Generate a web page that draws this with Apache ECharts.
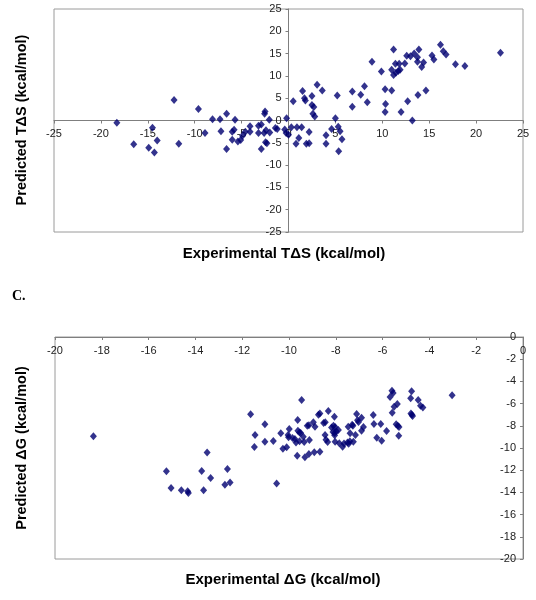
<!DOCTYPE html>
<html>
<head>
<meta charset="utf-8">
<script src="https://cdn.jsdelivr.net/npm/echarts@6/dist/echarts.min.js"></script>
<style>
html,body{margin:0;padding:0;background:#fff;}
#c{width:536px;height:600px;}
</style>
</head>
<body>
<div id="c"></div>
<script>
// Panel B: Experimental vs Predicted TΔS (kcal/mol)
const expTdS = [-18.3,-12.2,-16.5,-14.9,-14.3,-14.5,-14.0,-11.7,-9.6,-8.9,-8.1,-7.3,-7.2,-6.6,-6.6,-5.7,-6.0,-5.8,-6.0,-5.4,-5.1,-4.9,-4.6,-4.1,-4.1,-3.2,-2.9,-3.2,-2.9,-2.6,-2.55,-2.5,-2.4,-2.45,-2.3,-2.05,-2.0,-1.4,-1.2,-0.4,-0.2,-0.25,0.0,0.5,0.3,0.9,0.8,1.1,1.4,1.5,1.7,1.8,2.2,1.9,2.2,2.5,2.5,2.7,2.6,2.8,3.05,3.6,4.0,4.0,4.6,5.0,5.2,5.3,5.5,5.7,5.35,6.8,6.8,7.7,8.1,8.4,8.9,9.9,10.3,10.35,10.3,11.0,11.0,11.2,11.2,11.4,11.45,11.7,11.8,11.9,12.0,12.4,12.6,13.0,12.7,13.2,13.4,13.75,13.75,13.9,13.8,14.2,14.4,14.65,15.3,15.5,16.2,16.5,16.8,17.8,18.8,22.6];
const predTdS = [-0.5,4.6,-5.3,-6.1,-7.2,-1.6,-4.5,-5.2,2.6,-2.8,0.3,0.3,-2.4,1.5,-6.4,0.15,-2.5,-2.1,-4.3,-4.7,-4.4,-3.4,-2.5,-2.5,-1.3,-1.2,-0.9,-2.8,-6.4,-2.8,1.5,2.0,-2.2,-4.9,-5.1,0.15,-2.7,-1.7,-1.9,-2.0,0.5,-2.8,-3.2,4.3,-1.5,-1.5,-5.2,-3.9,-1.5,6.6,5.0,4.5,-2.6,-5.2,-5.1,5.5,3.5,3.0,1.5,0.9,8.0,6.7,-3.3,-5.2,-1.9,0.5,5.6,-1.4,-2.4,-4.2,-6.9,6.5,3.1,5.8,7.7,4.1,13.2,11.0,7.0,3.7,1.9,6.7,11.4,15.9,10.2,12.7,10.7,11.1,12.7,11.4,1.9,12.8,14.5,14.4,4.3,0.0,15.0,14.2,13.2,15.9,5.7,12.0,13.0,6.7,14.6,13.7,17.0,15.5,14.8,12.6,12.2,15.2];

// Panel C: Experimental vs Predicted ΔG (kcal/mol)
const expDG = [-18.36,-15.24,-15.04,-14.6,-14.33,-14.3,-13.65,-13.73,-13.5,-13.35,-12.74,-12.52,-12.63,-11.64,-11.03,-11.45,-11.48,-11.03,-10.67,-10.35,-10.53,-10.26,-10.1,-9.99,-10.04,-10.02,-9.63,-9.85,-9.75,-9.62,-9.55,-9.65,-9.46,-9.7,-9.5,-9.55,-9.39,-9.35,-9.13,-9.32,-9.15,-8.92,-8.68,-9.22,-9.15,-8.96,-8.89,-8.74,-8.68,-8.52,-8.45,-8.32,-8.46,-8.42,-8.35,-8.06,-8.18,-8.1,-8.03,-8.12,-8.05,-7.98,-7.89,-8.05,-8.03,-7.85,-7.71,-7.65,-7.5,-7.45,-7.4,-7.47,-7.3,-7.27,-7.39,-7.25,-7.16,-7.11,-7.07,-7.03,-6.9,-6.9,-6.82,-6.4,-6.37,-6.08,-6.25,-6.04,-5.83,-5.68,-5.6,-5.55,-5.59,-5.51,-5.37,-5.42,-5.35,-5.3,-5.31,-4.76,-4.8,-4.79,-4.75,-4.72,-4.48,-4.38,-4.28,-3.03];
const predDG = [-8.95,-12.1,-13.6,-13.8,-13.9,-14.05,-13.8,-12.07,-10.4,-12.7,-13.3,-13.1,-11.9,-6.97,-7.87,-8.83,-9.9,-9.43,-9.37,-8.68,-13.2,-10.06,-9.94,-8.29,-8.83,-9.04,-7.48,-9.1,-9.2,-8.45,-8.6,-10.7,-5.68,-9.5,-8.65,-9.4,-8.98,-9.45,-9.28,-10.84,-10.54,-10.39,-10.33,-8.0,-7.95,-7.69,-8.08,-7.0,-6.9,-7.75,-7.68,-6.67,-8.83,-9.25,-9.45,-7.18,-8.15,-8.0,-8.1,-8.55,-8.65,-8.5,-8.38,-8.85,-9.43,-9.58,-9.88,-9.6,-9.5,-9.62,-9.4,-8.08,-7.9,-8.0,-8.68,-9.43,-8.83,-6.94,-7.5,-7.65,-8.45,-7.27,-8.1,-7.03,-7.84,-7.84,-9.07,-9.34,-8.47,-5.41,-4.85,-5.05,-6.82,-6.28,-6.04,-7.85,-8.0,-8.1,-8.89,-4.89,-5.52,-6.9,-7.0,-7.12,-5.68,-6.2,-6.35,-5.25];

const topRange = [-25, 25];
const botRange = [-20, 0];

const topXTitle = 'Experimental TΔS (kcal/mol)';
const topYTitle = 'Predicted TΔS (kcal/mol)';
const botXTitle = 'Experimental ΔG (kcal/mol)';
const botYTitle = 'Predicted ΔG (kcal/mol)';
const panelLabel = 'C.';

const zip = (a, b) => a.map((v, i) => [v, b[i]]);

// grid geometry (layout)
const G1 = {left: 54, top: 9, width: 469, height: 223};
const G2 = {left: 55, top: 337, width: 468, height: 222};

// fraction of the axis span from its minimum to zero: used to move each axis to the zero crossing
const zeroFrac = (r) => (0 - r[0]) / (r[1] - r[0]);

const FONT = 'Liberation Sans, Arial, sans-serif';
const labelStyle = {fontFamily: FONT, fontSize: 11, color: '#222', showMinLabel: true, showMaxLabel: true};
const lineStyle = {show: true, onZero: false, lineStyle: {color: '#7f7f7f', width: 1}};
const tickStyle = {show: true, length: 3, inside: false, lineStyle: {color: '#7f7f7f'}};

const chart = echarts.init(document.getElementById('c'), null, {renderer: 'canvas'});
chart.setOption({
  animation: false,
  backgroundColor: '#fff',
  grid: [
    Object.assign({show: true, borderColor: '#9a9a9a', borderWidth: 1, backgroundColor: '#fff'}, G1),
    Object.assign({show: true, borderColor: '#9a9a9a', borderWidth: 1, backgroundColor: '#fff'}, G2)
  ],
  xAxis: [
    {gridIndex: 0, type: 'value', min: topRange[0], max: topRange[1], interval: 5, position: 'bottom',
     offset: -G1.height * zeroFrac(topRange),
     axisLine: lineStyle, axisTick: tickStyle, splitLine: {show: false},
     axisLabel: Object.assign({margin: 8}, labelStyle)},
    {gridIndex: 1, type: 'value', min: botRange[0], max: botRange[1], interval: 2, position: 'bottom',
     offset: -G2.height * zeroFrac(botRange),
     axisLine: lineStyle, axisTick: tickStyle, splitLine: {show: false},
     axisLabel: Object.assign({margin: 8}, labelStyle)}
  ],
  yAxis: [
    {gridIndex: 0, type: 'value', min: topRange[0], max: topRange[1], interval: 5, position: 'left',
     offset: -G1.width * zeroFrac(topRange),
     axisLine: lineStyle, axisTick: tickStyle, splitLine: {show: false},
     axisLabel: Object.assign({margin: 7}, labelStyle)},
    {gridIndex: 1, type: 'value', min: botRange[0], max: botRange[1], interval: 2, position: 'left',
     offset: -G2.width * zeroFrac(botRange),
     axisLine: lineStyle, axisTick: tickStyle, splitLine: {show: false},
     axisLabel: Object.assign({margin: 7}, labelStyle)}
  ],
  series: [
    {type: 'scatter', xAxisIndex: 0, yAxisIndex: 0, data: zip(expTdS, predTdS),
     symbol: 'diamond', symbolSize: [7, 8], itemStyle: {color: '#000070'}},
    {type: 'scatter', xAxisIndex: 1, yAxisIndex: 1, data: zip(expDG, predDG),
     symbol: 'diamond', symbolSize: [7, 8], itemStyle: {color: '#000070'}}
  ],
  graphic: [
    {type: 'text', x: 284, y: 254,
     style: {text: topXTitle, font: 'bold 15px ' + FONT, fill: '#000', align: 'center', verticalAlign: 'middle'}},
    {type: 'text', x: 22, y: 120, rotation: Math.PI / 2,
     style: {text: topYTitle, font: 'bold 14.5px ' + FONT, fill: '#000', align: 'center', verticalAlign: 'middle'}},
    {type: 'text', x: 12, y: 289, style: {text: panelLabel, font: 'bold 14px Liberation Serif, Times New Roman, serif', fill: '#000'}},
    {type: 'text', x: 283, y: 580,
     style: {text: botXTitle, font: 'bold 15px ' + FONT, fill: '#000', align: 'center', verticalAlign: 'middle'}},
    {type: 'text', x: 22, y: 448, rotation: Math.PI / 2,
     style: {text: botYTitle, font: 'bold 14.5px ' + FONT, fill: '#000', align: 'center', verticalAlign: 'middle'}}
  ]
});
</script>
</body>
</html>
